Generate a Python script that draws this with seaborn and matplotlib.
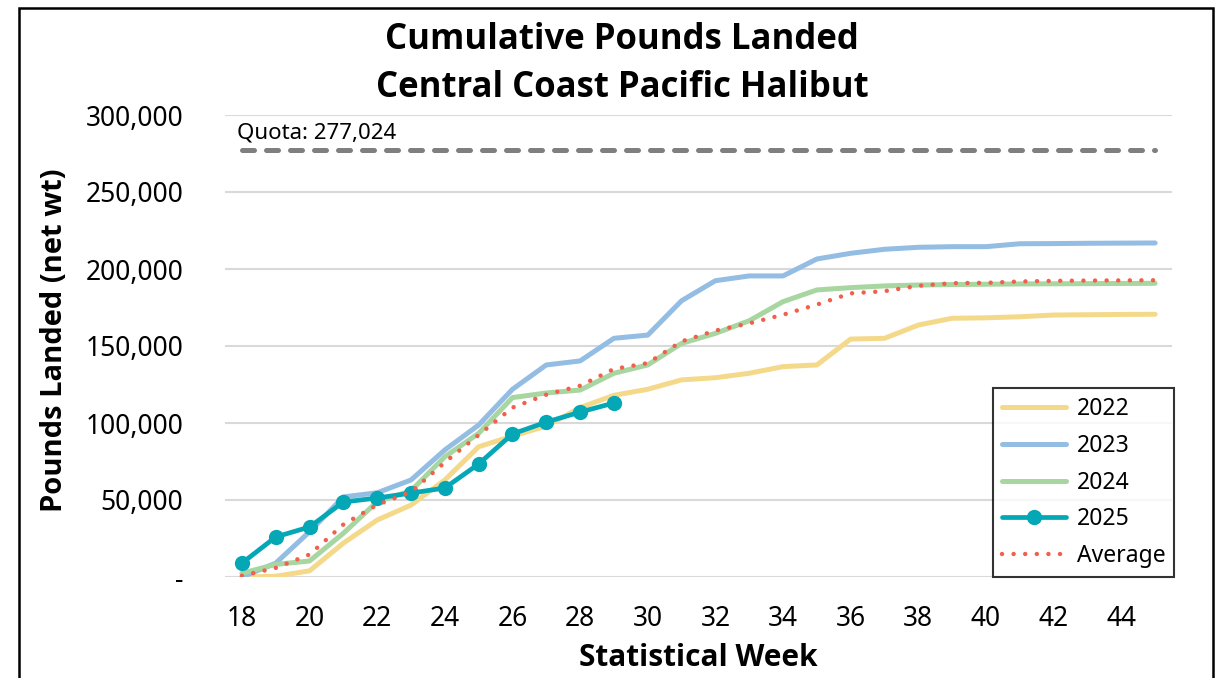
import numpy as np
import pandas as pd
import matplotlib
matplotlib.use('Agg')
import matplotlib.pyplot as plt
import matplotlib.ticker as mticker
from matplotlib.patches import Rectangle
import seaborn as sns

# weekly cumulative landings
weeks = list(range(18, 46))
lbs_2022 = [0, 500, 4000, 22000, 37000, 46700, 63000, 84600, 91500, 98000,
            110000, 118000, 121900, 128000, 129400, 132300, 136600, 137700,
            154500, 155000, 163600, 168000, 168300, 169000, 170100, 170300,
            170500, 170600]
lbs_2023 = [0, 9000, 29400, 52000, 54700, 63000, 82500, 98700, 121900, 137700,
            140300, 155000, 157100, 179400, 192400, 195500, 195500, 206500,
            210200, 212800, 214100, 214500, 214500, 216400, 216500, 216700,
            216800, 216900]
lbs_2024 = [2400, 8200, 10400, 28400, 48900, 56000, 78100, 93300, 116500, 119500,
            121400, 132300, 137700, 151700, 158200, 166400, 178800, 186400,
            187900, 189000, 189600, 189900, 190100, 190300, 190400, 190500,
            190600, 190700]
weeks_2025 = list(range(18, 30))
lbs_2025 = [9000, 26000, 32500, 48700, 51300, 54500, 57800, 73400, 92900,
            100600, 107100, 113000]
lbs_avg = [800, 5900, 14600, 34100, 46900, 55200, 74500, 92200, 110000, 118400,
           124200, 135100, 138900, 153000, 160000, 164700, 170300, 176900,
           184200, 185600, 189100, 190800, 191000, 191900, 192300, 192500,
           192600, 192700]
quota = 277024

sns.set_style("white")
plt.rcParams['font.family'] = ['Noto Sans', 'DejaVu Sans']
plt.rcParams['text.color'] = 'black'
plt.rcParams['xtick.color'] = 'black'
plt.rcParams['ytick.color'] = 'black'
bold_fam = ['Open Sans', 'Lato', 'DejaVu Sans']

fig = plt.figure(figsize=(12.18, 6.78), dpi=100)
ax = fig.add_axes([225/1218, 1 - 577/678, 947/1218, 462/678])

df_q = pd.DataFrame({'week': [weeks[0], weeks[-1]], 'lbs': [quota, quota]})
sns.lineplot(data=df_q, x='week', y='lbs', ax=ax, color='#7f7f7f', linewidth=3.6,
             dashes=False, legend=False)
ax.lines[-1].set_linestyle((0, (2.4, 2.4)))
ax.lines[-1].set_dash_capstyle('round')
ax.text(17.86, quota + 4500, 'Quota: 277,024', fontsize=16, va='bottom', ha='left')

sns.lineplot(x=weeks, y=lbs_2022, ax=ax, color='#f5d98b', linewidth=3.6, label='2022')
sns.lineplot(x=weeks, y=lbs_2023, ax=ax, color='#93bde2', linewidth=3.6, label='2023')
sns.lineplot(x=weeks, y=lbs_2024, ax=ax, color='#a8d6a0', linewidth=3.6, label='2024')
sns.lineplot(x=weeks_2025, y=lbs_2025, ax=ax, color='#03a7b6', linewidth=3.4,
             marker='o', markersize=11, markeredgewidth=0, label='2025')
sns.lineplot(x=weeks, y=lbs_avg, ax=ax, color='#f0604d', linewidth=3.2, label='Average')
ax.lines[-1].set_linestyle((0, (0.01, 2.6)))
ax.lines[-1].set_dash_capstyle('round')

ax.set_xlim(17.5, 45.5)
ax.set_ylim(0, 300000)
ax.set_xticks(range(18, 46, 2))
ax.set_yticks(range(0, 300001, 50000))
ax.yaxis.set_major_formatter(mticker.FuncFormatter(
    lambda v, p: '-' if v == 0 else f'{int(v):,}'))
ax.tick_params(axis='both', length=0, labelsize=19)
ax.tick_params(axis='y', pad=30)
ax.tick_params(axis='x', pad=20)
ax.grid(axis='y', color='#d9d9d9', linewidth=1.5)
ax.set_axisbelow(True)
for s in ax.spines.values():
    s.set_visible(False)

ax.set_xlabel('')
ax.set_ylabel('')
fig.text(698/1218, 1 - 658/678, 'Statistical Week', fontsize=21.5, fontweight='bold',
         family=bold_fam, ha='center', va='center')
fig.text(55/1218, 1 - 340/678, 'Pounds Landed (net wt)', fontsize=21, fontweight='bold',
         family=bold_fam, ha='center', va='center', rotation=90)
fig.text(622/1218, 1 - 40/678, 'Cumulative Pounds Landed', fontsize=25,
         fontweight='bold', family=bold_fam, ha='center', va='center')
fig.text(622/1218, 1 - 88/678, 'Central Coast Pacific Halibut', fontsize=25,
         fontweight='bold', family=bold_fam, ha='center', va='center')

leg = ax.legend(loc='lower left', bbox_to_anchor=(0.811, 0.0), borderaxespad=0,
                fontsize=16.5, handlelength=2.8, handletextpad=0.45, labelspacing=0.55,
                fancybox=False, frameon=True, borderpad=0.4)
leg.get_frame().set_edgecolor('black')
leg.get_frame().set_linewidth(1.5)

fig.patches.append(Rectangle((19/1218, -0.01), 1194/1218, 1.01 - 8/678,
                             transform=fig.transFigure, fill=False,
                             edgecolor='black', linewidth=1.8))

fig.savefig('out.png', dpi=100)
